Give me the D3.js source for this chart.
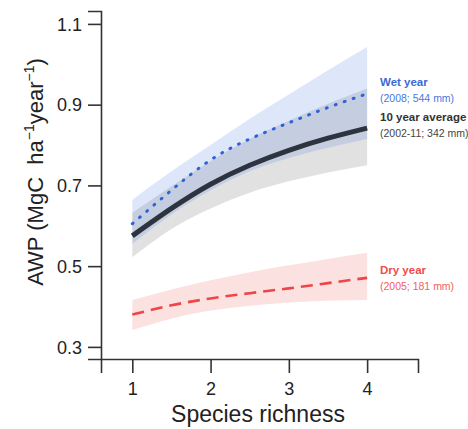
<!DOCTYPE html>
<html>
<head>
<meta charset="utf-8">
<script src="https://cdn.jsdelivr.net/npm/d3@7"></script>
<style>
body { margin: 0; background: #fff; }
text { font-family: "Liberation Sans", Arial, sans-serif; }
</style>
</head>
<body>
<div id="view"></div>
<script>
var width = 468, height = 429;

// species richness positions
var richness = [1, 1.5, 2, 2.5, 3, 3.5, 4];

// wet year (2008)
var wetMean = [0.605, 0.688, 0.763, 0.815, 0.855, 0.893, 0.927];
var wetLow  = [0.555, 0.628, 0.688, 0.735, 0.768, 0.793, 0.815];
var wetHigh = [0.664, 0.735, 0.800, 0.865, 0.925, 0.985, 1.043];

// 10 year average (2002-11)
var avgMean = [0.575, 0.643, 0.703, 0.750, 0.787, 0.817, 0.842];
var avgLow  = [0.522, 0.592, 0.643, 0.682, 0.710, 0.732, 0.750];
var avgHigh = [0.632, 0.698, 0.760, 0.815, 0.860, 0.902, 0.940];

// dry year (2005)
var dryMean = [0.380, 0.403, 0.420, 0.433, 0.445, 0.458, 0.471];
var dryLow  = [0.342, 0.370, 0.390, 0.402, 0.410, 0.414, 0.416];
var dryHigh = [0.416, 0.442, 0.465, 0.485, 0.502, 0.518, 0.533];

var xTicks = [1, 2, 3, 4];
var yTicks = [0.3, 0.5, 0.7, 0.9, 1.1];

var x = d3.scaleLinear().domain([0.6, 4.65]).range([101, 418]);
var y = d3.scaleLinear().domain([0.27, 1.132]).range([359, 11]);

var svg = d3.select("#view").append("svg")
	.attr("width", width)
	.attr("height", height);

function rows(lo, mid, hi) {
	return richness.map(function(r, i) { return {r: r, lo: lo[i], mid: mid[i], hi: hi[i]}; });
}

var band = d3.area()
	.x(function(d) { return x(d.r); })
	.y0(function(d) { return y(d.lo); })
	.y1(function(d) { return y(d.hi); })
	.curve(d3.curveNatural);
var line = d3.line()
	.x(function(d) { return x(d.r); })
	.y(function(d) { return y(d.mid); })
	.curve(d3.curveNatural);

var avg = rows(avgLow, avgMean, avgHigh);
var wet = rows(wetLow, wetMean, wetHigh);
var dry = rows(dryLow, dryMean, dryHigh);

// confidence bands
svg.append("path").attr("d", band(avg)).style("fill", "#888888").style("fill-opacity", 0.25);
svg.append("path").attr("d", band(wet)).style("fill", "#4678dc").style("fill-opacity", 0.18);
svg.append("path").attr("d", band(dry)).style("fill", "#f05050").style("fill-opacity", 0.17);

// fitted lines
svg.append("path").attr("d", line(avg))
	.style("fill", "none").style("stroke", "#2d3440").style("stroke-width", 5);
svg.append("path").attr("d", line(wet))
	.style("fill", "none").style("stroke", "#2f62d8").style("stroke-width", 3)
	.style("stroke-linecap", "round").style("stroke-dasharray", "1,8.5");
svg.append("path").attr("d", line(dry))
	.style("fill", "none").style("stroke", "#ef4545").style("stroke-width", 2.6)
	.style("stroke-dasharray", "12,7");

// axes
var xAxis = svg.append("g").attr("transform", "translate(0,359)")
	.call(d3.axisBottom(x).tickValues(xTicks).tickFormat(d3.format("d")).tickSize(14).tickPadding(9));
var yAxis = svg.append("g").attr("transform", "translate(101,0)")
	.call(d3.axisLeft(y).tickValues(yTicks).tickFormat(d3.format(".1f")).tickSize(13).tickPadding(6));
[xAxis, yAxis].forEach(function(a) {
	a.select(".domain").attr("stroke", "#333").attr("stroke-width", 1.6);
	a.selectAll(".tick line").attr("stroke", "#333").attr("stroke-width", 1.6);
	a.selectAll(".tick text").attr("fill", "#222").style("font-size", "18px");
});
xAxis.selectAll(".tick text").attr("dy", "0.71em");
yAxis.selectAll(".tick text").attr("dy", "0.35em");

// axis titles
svg.append("text")
	.attr("x", 258).attr("y", 422)
	.attr("text-anchor", "middle")
	.style("font-size", "23px").attr("fill", "#222")
	.text("Species richness");

var yt = svg.append("text")
	.attr("transform", "translate(43,172) rotate(-90)")
	.attr("text-anchor", "middle")
	.style("font-size", "22px").attr("fill", "#222")
	.attr("xml:space", "preserve");
yt.append("tspan").text("AWP (MgC  ha");
yt.append("tspan").attr("dy", -9).style("font-size", "14px").text("\u22121");
yt.append("tspan").attr("dy", 9).text("year");
yt.append("tspan").attr("dy", -9).style("font-size", "14px").text("\u22121");
yt.append("tspan").attr("dy", 9).text(")");

// series labels
var labels = [
	{t: "Wet year", s: "(2008; 544 mm)", yy: 86, c: "#3a6ad6", c2: "#4a78dc"},
	{t: "10 year average", s: "(2002-11; 342 mm)", yy: 121, c: "#333333", c2: "#444444"},
	{t: "Dry year", s: "(2005; 181 mm)", yy: 274, c: "#ef4d4d", c2: "#f06060"}
];
labels.forEach(function(l) {
	svg.append("text").attr("x", 380).attr("y", l.yy)
		.style("font-size", "11.5px").style("font-weight", "bold").attr("fill", l.c).text(l.t);
	svg.append("text").attr("x", 380).attr("y", l.yy + 16)
		.style("font-size", "10.5px").attr("fill", l.c2).text(l.s);
});
</script>
</body>
</html>
